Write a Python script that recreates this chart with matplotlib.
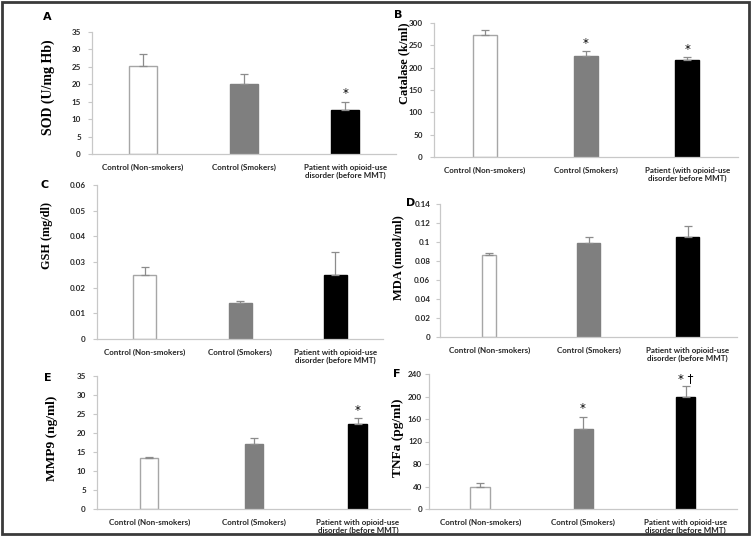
import matplotlib
matplotlib.use("Agg")
import matplotlib.pyplot as plt
from matplotlib.patches import Rectangle
import numpy as np

W, H = 751, 545

# group labels
groups = ["Control (Non-smokers)", "Control (Smokers)",
          "Patient with opioid-use\ndisorder (before MMT)"]
groups_b = ["Control (Non-smokers)", "Control (Smokers)",
            "Patient (with opioid-use\ndisorder before MMT)"]

# values (mean, upper error)
sod_mean = [25.2, 20.0, 12.7]
sod_err = [3.4, 3.0, 2.3]
sod_marks = ["", "", "*"]

cat_mean = [274, 225, 217]
cat_err = [10, 12, 7]
cat_marks = ["", "*", "*"]

gsh_mean = [0.025, 0.014, 0.025]
gsh_err = [0.003, 0.001, 0.009]
gsh_marks = ["", "", ""]

mda_mean = [0.086, 0.099, 0.105]
mda_err = [0.002, 0.006, 0.012]
mda_marks = ["", "", ""]

mmp_mean = [13.5, 17.2, 22.3]
mmp_err = [0.3, 1.6, 1.6]
mmp_marks = ["", "", "*"]

tnf_mean = [40, 142, 200]
tnf_err = [6, 22, 18]
tnf_marks = ["", "*", "* \u2020"]

bar_colors = ["white", "#7f7f7f", "black"]
edge_colors = ["#a6a6a6", "#7f7f7f", "black"]

fig = plt.figure(figsize=(W / 100, H / 100), dpi=100)


def panel(letter, ylabel, mean, err, marks, labels, box, ymax, step, widths,
          letter_xy, ylabel_xy, ylabel_size, ypad=5):
    l, r, t, b = box
    ax = fig.add_axes([l / W, 1 - b / H, (r - l) / W, (b - t) / H])
    spacing = (r - l) / 3.0
    x = np.arange(3)
    for i in range(3):
        ax.bar(x[i], mean[i], width=widths[i] / spacing, color=bar_colors[i],
               edgecolor=edge_colors[i], linewidth=1.0, zorder=2)
        ax.errorbar(x[i], mean[i], yerr=[[0], [err[i]]], color="#8c8c8c",
                    elinewidth=0.9, capsize=3, capthick=0.9, zorder=3)
        if marks[i]:
            ax.text(x[i], mean[i] + err[i] + ymax * 0.01, marks[i],
                    ha="center", va="bottom", fontsize=8.5, color="black")
    ax.set_xlim(-0.5, 2.5)
    ax.set_ylim(0, ymax)
    ticks = np.arange(0, ymax + step / 2, step)
    ax.set_yticks(ticks)
    ax.set_yticklabels(["{:g}".format(round(v, 4)) for v in ticks])
    ax.set_xticks(x)
    ax.set_xticklabels(labels)
    for s in ["top", "right"]:
        ax.spines[s].set_visible(False)
    for s in ["left", "bottom"]:
        ax.spines[s].set_color("#c8c8c8")
        ax.spines[s].set_linewidth(0.9)
    ax.tick_params(axis="y", length=3, width=0.8, color="#c8c8c8", pad=ypad,
                   labelsize=5.8, labelcolor="#262626")
    ax.tick_params(axis="x", length=0, pad=7, labelsize=5.8,
                   labelcolor="#262626")
    for lab in ax.get_xticklabels() + ax.get_yticklabels():
        lab.set_fontfamily("Lato")
        lab.set_fontweight("bold")
    fig.text(letter_xy[0] / W, 1 - letter_xy[1] / H, letter, ha="center",
             va="center", fontsize=8, fontweight="bold", family="DejaVu Sans")
    fig.text(ylabel_xy[0] / W, 1 - ylabel_xy[1] / H, ylabel, rotation=90,
             ha="center", va="center", fontsize=ylabel_size,
             fontweight="bold", family="Liberation Serif")
    return ax


panel("A", "SOD (U/mg Hb)", sod_mean, sod_err, sod_marks, groups,
      (92, 396, 32, 154), 35, 5, [28, 28, 28], (47, 17), (48, 87), 10)
panel("B", "Catalase (k/ml)", cat_mean, cat_err, cat_marks, groups_b,
      (434, 738, 23, 157), 300, 50, [24, 24, 24], (398, 15), (404, 63), 9)
panel("C", "GSH (mg/dl)", gsh_mean, gsh_err, gsh_marks, groups,
      (97, 383, 185, 339), 0.06, 0.01, [23, 23, 23], (45, 185), (47, 235),
      8.8)
panel("D", "MDA (nmol/ml)", mda_mean, mda_err, mda_marks, groups,
      (440, 737, 204, 337), 0.14, 0.02, [14, 23, 23], (411, 203), (398, 258),
      9.0, ypad=4)
panel("E", "MMP9 (ng/ml)", mmp_mean, mmp_err, mmp_marks, groups,
      (97, 410, 376, 509), 35, 5, [18, 18, 19], (48, 378), (52, 438), 9.6)
panel("F", "TNFa (pg/ml)", tnf_mean, tnf_err, tnf_marks, groups,
      (429, 737, 374, 509), 240, 40, [20, 19, 19], (397, 374), (398, 438),
      9.6, ypad=2)

# outer frame
fig.patches.append(Rectangle((1.5 / W, 1 - 533.5 / H), 747.5 / W, 532 / H,
                             transform=fig.transFigure, fill=False,
                             edgecolor="#3a3a3a", linewidth=2))

fig.savefig("out.png", dpi=100)
